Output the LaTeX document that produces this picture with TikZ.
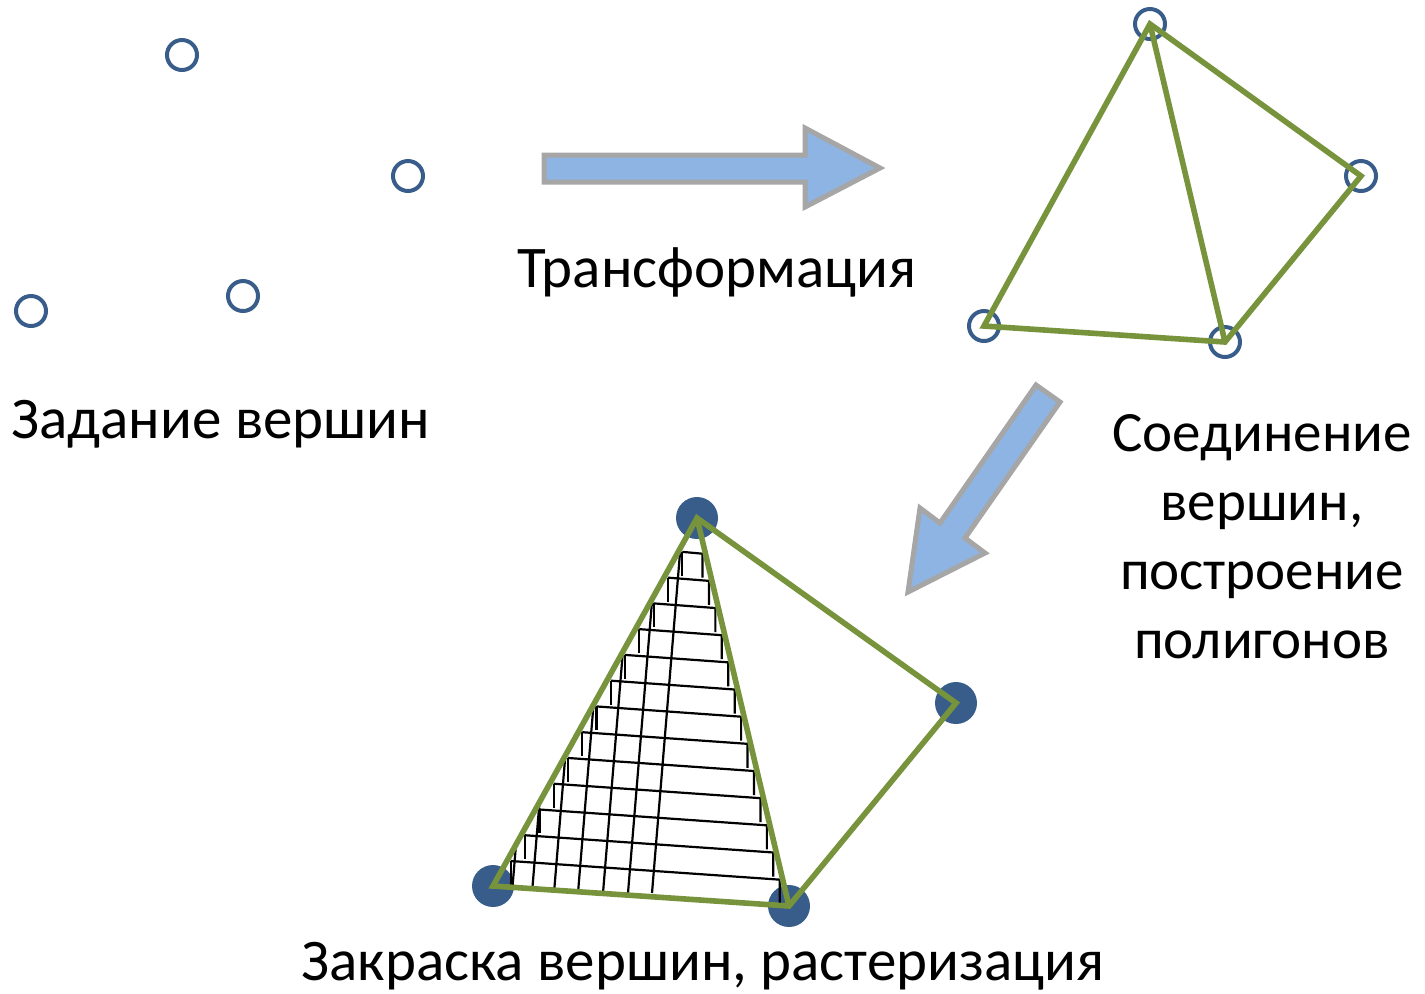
\documentclass[tikz,border=0pt]{standalone}
\usepackage{fontspec}
\setmainfont{Carlito}
\usetikzlibrary{calc}

\definecolor{vblue}{HTML}{385D8A}
\definecolor{egreen}{HTML}{77933C}
\definecolor{afill}{HTML}{8DB4E2}
\definecolor{agray}{HTML}{A6A6A6}

\begin{document}
\begin{tikzpicture}[x=0.5pt, y=-0.5pt,
    vtx/.style={circle, draw=vblue, line width=2pt, minimum size=15pt, inner sep=0pt},
    dot/.style={circle, fill=vblue, minimum size=21pt, inner sep=0pt},
    edge/.style={draw=egreen, line width=2.8pt},
    hatch/.style={draw=black, line width=1.1pt},
    bigarrow/.style={fill=afill, draw=agray, line width=2.5pt},
    lbl/.style={inner sep=0pt, font=\fontsize{29.5}{35}\selectfont}]

    \useasboundingbox (0,0) rectangle (1425,993);

    % vertices given
    \node[vtx] (a1) at (182,55) {};
    \node[vtx] (a2) at (408,176) {};
    \node[vtx] (a3) at (243,296) {};
    \node[vtx] (a4) at (31,311) {};
    \node[lbl, anchor=base west] (zad) at (11,438) {Задание вершин};

    % transformation arrow
    \draw[bigarrow] (544,155) -- (805,155) -- (805,128) -- (880,168) -- (805,207) -- (805,182) -- (544,182) -- cycle;
    \node[lbl, anchor=base] (tra) at (717,287) {Трансформация};

    % connected vertices
    \node[vtx] (q1) at (1150,24) {};
    \node[vtx] (q2) at (1361,176) {};
    \node[vtx] (q3) at (1225,342) {};
    \node[vtx] (q4) at (984,326) {};
    \draw[edge] (q4.center) -- (q1.center) -- (q2.center) -- (q3.center) -- cycle;
    \draw[edge] (q1.center) -- (q3.center);
    \node[lbl, font=\fontsize{28.5}{34.5}\selectfont, align=center, anchor=base] (soe) at (1262,658) {Соединение\\вершин,\\построение\\полигонов};

    % second arrow
    \draw[bigarrow] (1036,385) -- (1060,402) -- (965,538) -- (985,553) -- (908,592) -- (920,508) -- (940,523) -- cycle;

    % rasterised polygon
    \node[dot] (r1) at (697,518) {};
    \node[dot] (r2) at (956,703) {};
    \node[dot] (r3) at (789,906) {};
    \node[dot] (r4) at (493,886) {};

    \begin{scope}
      \clip ($(r1)!0.092!(r4)$) -- ($(r1)!0.092!(r3)$) -- (r3.center) -- (r4.center) -- cycle;
      \foreach \cx in {512,532,554,578,603,628,652}
        \draw[hatch] (\cx,893) -- ++(28,-340);
    \end{scope}
    \foreach \i in {0,...,12} {
      \pgfmathsetmacro\f{0.092+0.07*\i}
      \draw[hatch] ($(r1)!\f!(r4)+(4,0)$) coordinate (pl) -- ($(r1)!\f!(r3)+(-3,0)$) coordinate (pr) -- ++(0,24);
      \draw[hatch] (pl) -- ++(0,24);
    }

    \draw[edge] (r4.center) -- (r1.center) -- (r2.center) -- (r3.center) -- cycle;
    \draw[edge] (r1.center) -- (r3.center);
    \node[lbl, anchor=base] (zak) at (703,980) {Закраска вершин, растеризация};

\end{tikzpicture}
\end{document}
